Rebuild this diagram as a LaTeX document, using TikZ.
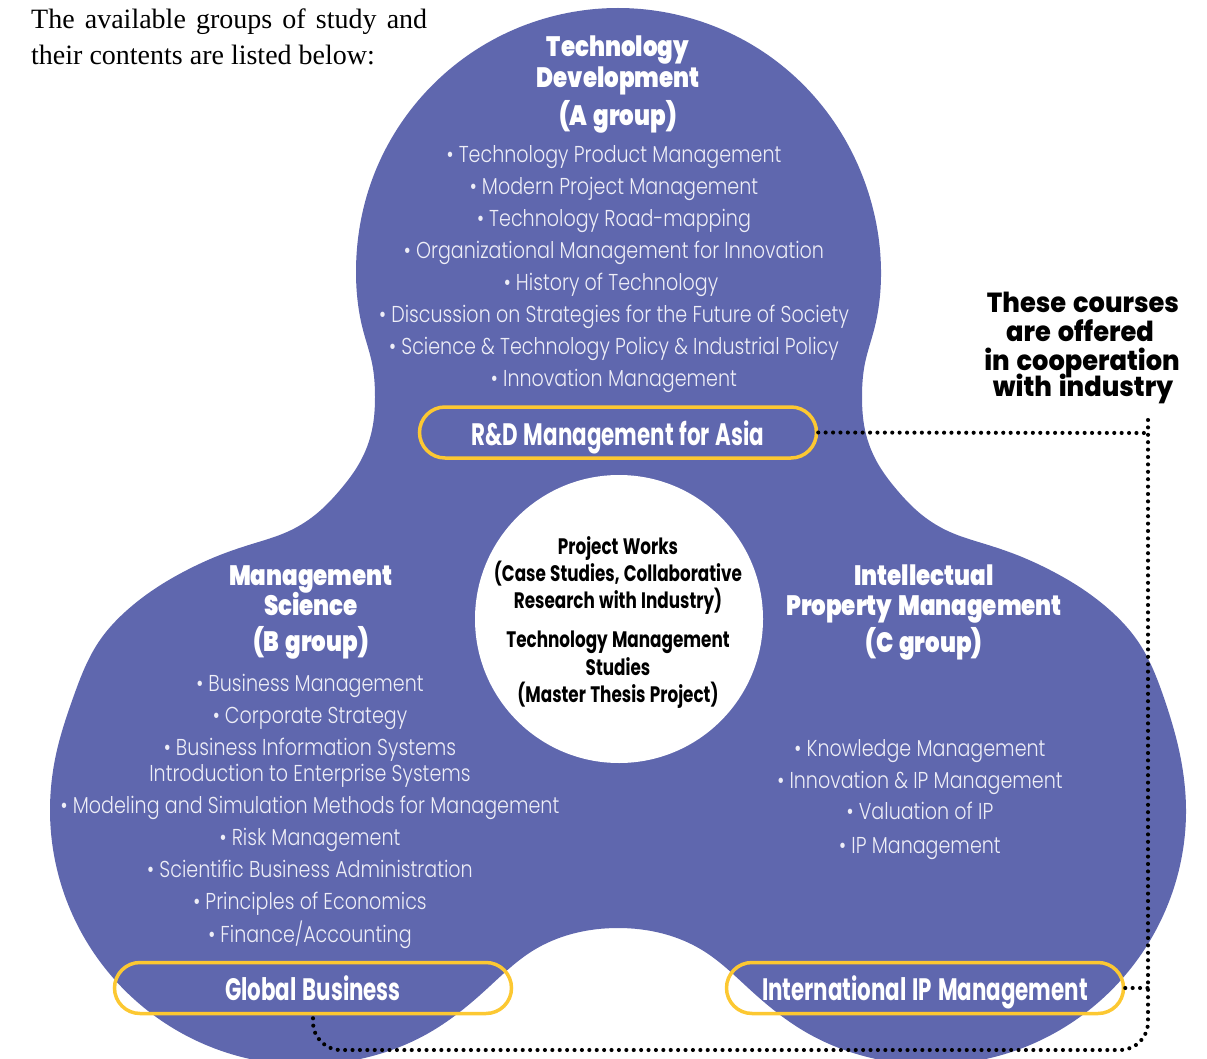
\documentclass[tikz,border=0pt]{standalone}
\usepackage{fontspec}
\setmainfont{Liberation Serif}
\IfFontExistsTF{Poppins Light}
  {\newfontfamily\lightf{Poppins Light}[FakeStretch=0.83]}
  {\newfontfamily\lightf{Poppins}[FakeStretch=0.83]}
\IfFontExistsTF{Poppins ExtraBold}
  {\newfontfamily\condf{Poppins ExtraBold}[FakeStretch=0.82,WordSpace=1.5]
   \newfontfamily\heavyf{Poppins ExtraBold}[FakeStretch=0.93,WordSpace=1.4]}
  {\newfontfamily\condf{Poppins}[FakeStretch=0.85,WordSpace=1.5,UprightFont=*,BoldFont=* Bold]
   \newfontfamily\heavyf{Poppins}[WordSpace=1.4,UprightFont=* Bold]}
\newfontfamily\boxf{Poppins}[FakeStretch=0.69,WordSpace=1.3]
\newfontfamily\ctrf{Poppins}[FakeStretch=0.75,WordSpace=1.2]
\usetikzlibrary{hobby}
\definecolor{blobc}{RGB}{95,103,174}
\definecolor{gold}{RGB}{252,200,50}
\definecolor{itemc}{RGB}{238,238,247}
\begin{document}
\begin{tikzpicture}[x=1pt,y=-1pt,
  item/.style={text=itemc,font=\lightf\fontsize{23}{28}\selectfont,anchor=base,inner sep=0pt},
  gtitle/.style={text=white,font=\condf\bfseries\fontsize{28}{30}\selectfont,anchor=base,inner sep=0pt},
  pill/.style={draw=gold,line width=3.5pt,rounded corners=25.5pt,minimum width=397pt,minimum height=51pt,
    text=white,font=\boxf\bfseries\fontsize{31}{33}\selectfont,text height=25pt,text depth=0pt},
  ctext/.style={text=black,font=\ctrf\bfseries\fontsize{22.4}{24}\selectfont,anchor=base,inner sep=0pt},
  note/.style={text=black,font=\heavyf\fontsize{27.6}{30}\selectfont,anchor=base,inner sep=0pt},
  intro/.style={text=black,font=\fontsize{28}{36.7}\selectfont,anchor=base west,inner sep=0pt},
  dots/.style={line width=4.1pt,line cap=round,dash pattern=on 0pt off 7.4pt}]
\useasboundingbox (0,0) rectangle (1207,1059);
\clip (0,0) rectangle (1207,1059);
% blob outline
\fill[blobc] plot[closed hobby] coordinates {
 (618,8) (663.5,12) (749,43) (818.7,101.6) (864.2,180.4) (881,270) (874,330) (865,363)
 (862,397) (865,430) (877,462) (897,490) (922,515) (950,532) (985,544) (1017,555)
 (1050,570) (1084,590) (1112,612) (1137,640) (1164,698) (1179,750) (1186,810)
 (1162.1,917.8) (1094.9,1005.3) (997,1056.3) (886.7,1061.1) (803.5,1030.8) (750.7,990.3)
 (703.5,950.9) (618,928) (532.5,950.9) (485.3,990.3) (432.5,1030.8) (349.3,1061.1)
 (239,1056.3) (141.1,1005.3) (73.9,917.8) (50,810) (57,750) (73,698) (100,640)
 (125,612) (153,590) (187,570) (220,555) (252,544) (287,532) (315,515) (340,490)
 (360,462) (372,430) (375,397) (372,363) (363,330) (356,270) (371.8,180.4)
 (417.3,101.6) (487,43.1) (572.5,12)};
% central disc
\node[circle,fill=white,minimum size=288pt,inner sep=0pt] (core) at (619,619) {};
% intro text
\node[intro] (intro1) at (31,28.3) {\makebox[396pt][s]{The available groups of study and}};
\node[intro] (intro2) at (31,65) {their contents are listed below:};
% A group
\node[gtitle] (at1) at (618,57) {Technology};
\node[gtitle] (at2) at (618,87.5) {Development};
\node[gtitle] (at3) at (618,125.7) {(A group)};
\node[item] (a1) at (614,162.5) {• Technology Product Management};
\node[item] (a2) at (614,194.6) {• Modern Project Management};
\node[item] (a3) at (614,226.6) {• Technology Road-mapping};
\node[item] (a4) at (614,258.7) {• Organizational Management for Innovation};
\node[item] (a5) at (611,290.7) {• History of Technology};
\node[item] (a6) at (614,322.8) {• Discussion on Strategies for the Future of Society};
\node[item] (a7) at (614,354.8) {• Science \& Technology Policy \& Industrial Policy};
\node[item] (a8) at (614,386.9) {• Innovation Management};
\node[pill] (rd) at (618,432.5) {R\&D Management for Asia};
% B group
\node[gtitle] (bt1) at (311,585) {Management};
\node[gtitle] (bt2) at (311,615.5) {Science};
\node[gtitle] (bt3) at (311,651) {(B group)};
\node[item] (b1) at (310,691) {• Business Management};
\node[item] (b2) at (310,723) {• Corporate Strategy};
\node[item] (b3) at (310,755) {• Business Information Systems};
\node[item] (b4) at (310,781) {Introduction to Enterprise Systems};
\node[item] (b5) at (310,813) {• Modeling and Simulation Methods for Management};
\node[item] (b6) at (310,845) {• Risk Management};
\node[item] (b7) at (310,877) {• Scientific Business Administration};
\node[item] (b8) at (310,909) {• Principles of Economics};
\node[item] (b9) at (310,942) {• Finance/Accounting};
\node[pill] (gb) at (313,988) {Global Business};
% C group
\node[gtitle] (ct1) at (924,585) {Intellectual};
\node[gtitle] (ct2) at (924,615.5) {Property Management};
\node[gtitle] (ct3) at (924,652) {(C group)};
\node[item] (c1) at (920,756) {• Knowledge Management};
\node[item] (c2) at (920,788) {• Innovation \& IP Management};
\node[item] (c3) at (920,819.5) {• Valuation of IP};
\node[item] (c4) at (920,853.5) {• IP Management};
\node[pill] (ip) at (925,988) {International IP Management};
% centre text
\node[ctext] (k1) at (618,554) {Project Works};
\node[ctext] (k2) at (618,581.7) {(Case Studies, Collaborative};
\node[ctext] (k3) at (618,608.3) {Research with Industry)};
\node[ctext] (k4) at (618,647.3) {Technology Management};
\node[ctext] (k5) at (618,675) {Studies};
\node[ctext] (k6) at (618,702.7) {(Master Thesis Project)};
% note
\node[note] (n1) at (1083,312.7) {These courses};
\node[note] (n2) at (1080,341.7) {are offered};
\node[note] (n3) at (1082,370) {in cooperation};
\node[note] (n4) at (1083,396.7) {with industry};
% dotted connectors
\coordinate (d0) at (1148,420);
\coordinate (d1) at (1148,433);
\coordinate (d2) at (1148,1050);
\coordinate (d3) at (313,1050);
\coordinate (d4) at (1148,988);
\draw[dots] (rd.east) -- (d1);
\draw[dots,rounded corners=28pt] (d0) -- (d2) -- (d3) -- (gb.south);
\draw[dots] (ip.east) -- (d4);
\end{tikzpicture}
\end{document}
